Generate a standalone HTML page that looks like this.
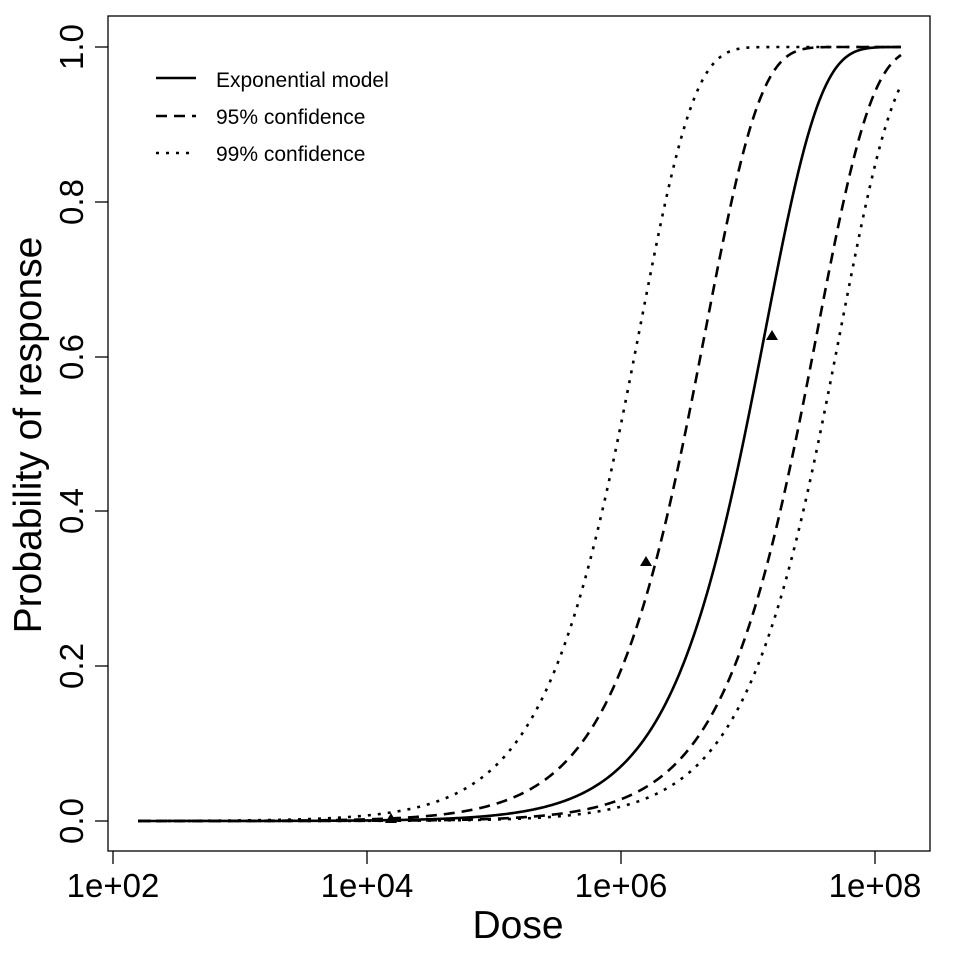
<!DOCTYPE html>
<html><head><meta charset="utf-8"><style>body{margin:0;background:#fff}svg{display:block}text{font-family:"Liberation Sans",sans-serif;fill:#000}</style></head>
<body>
<svg id="s" width="960" height="960" viewBox="0 0 960 960">
<rect x="108" y="16" width="822" height="835" fill="none" stroke="#000" stroke-width="1.3"/>
<g stroke="#000" stroke-width="1.3">
<line x1="113" y1="851" x2="113" y2="864"/><line x1="367" y1="851" x2="367" y2="864"/><line x1="621" y1="851" x2="621" y2="864"/><line x1="875" y1="851" x2="875" y2="864"/>
<line x1="95" y1="821" x2="108" y2="821"/><line x1="95" y1="666" x2="108" y2="666"/><line x1="95" y1="511" x2="108" y2="511"/><line x1="95" y1="357" x2="108" y2="357"/><line x1="95" y1="202" x2="108" y2="202"/><line x1="95" y1="47" x2="108" y2="47"/>
</g>
<g font-size="33" text-anchor="middle">
<text x="113" y="897">1e+02</text><text x="367" y="897">1e+04</text><text x="621" y="897">1e+06</text><text x="875" y="897">1e+08</text>
<text transform="translate(83,821) rotate(-90)">0.0</text>
<text transform="translate(83,666) rotate(-90)">0.2</text>
<text transform="translate(83,511) rotate(-90)">0.4</text>
<text transform="translate(83,357) rotate(-90)">0.6</text>
<text transform="translate(83,202) rotate(-90)">0.8</text>
<text transform="translate(83,47) rotate(-90)">1.0</text>
</g>
<text x="518" y="938" font-size="39" text-anchor="middle">Dose</text>
<text transform="translate(41,435) rotate(-90)" font-size="39" text-anchor="middle">Probability of response</text>
<g stroke="#000" stroke-width="2.6" fill="none">
<line x1="156" y1="78" x2="196" y2="78"/>
<line x1="156" y1="116" x2="196" y2="116" stroke-dasharray="11,7"/>
<line x1="156" y1="153" x2="196" y2="153" stroke-dasharray="3,7"/>
</g>
<g font-size="21"><text x="216" y="87">Exponential model</text><text x="216" y="124">95% confidence</text><text x="216" y="161">99% confidence</text></g>
<g id="c" stroke="#000" stroke-width="2.6" fill="none"></g>
<g fill="#000">
<polygon points="385,823 397,823 391,813"/>
<polygon points="640,566 652,566 646,556"/>
<polygon points="766,340 778,340 772,330"/>
</g>
</svg>
<script>
var g=document.getElementById('c');
var curves=[[6.976,''],[6.504,'11,7'],[7.386,'11,7'],[5.984,'3,7'],[7.567,'3,7']];
curves.forEach(function(c){
 var k=Math.LN2/Math.pow(10,c[0]);var d='';
 for(var x=138;x<=901;x+=1){var l=2+(x-113)/127;var p=1-Math.exp(-k*Math.pow(10,l));var y=821-774*p;d+=(d?'L':'M')+x+','+y.toFixed(2);}
 var e=document.createElementNS('http://www.w3.org/2000/svg','path');e.setAttribute('d',d);if(c[1])e.setAttribute('stroke-dasharray',c[1]);g.appendChild(e);
});
</script>
</body></html>
